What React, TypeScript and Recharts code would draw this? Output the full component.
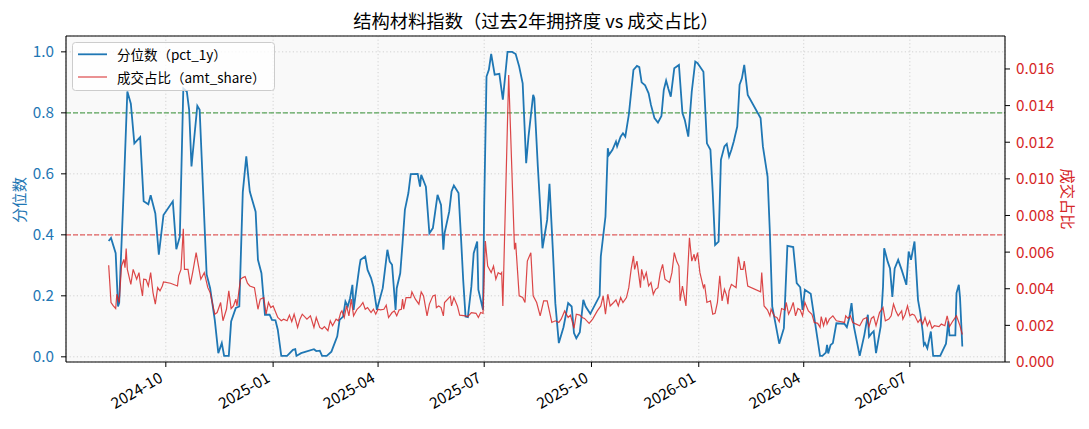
import { LineChart, Line, XAxis, YAxis, CartesianGrid, ReferenceLine } from "recharts";

const W = 1089;
const H = 429;
const FONT = '"Noto Sans CJK SC", "Noto Sans", sans-serif';
const BLUE = "#1f77b4";
const RED = "#d62728";

// 分位数 (pct_1y), one line per month
const pctDates = [
  "2024-08-13", "2024-08-15", "2024-08-19", "2024-08-21", "2024-08-22", "2024-08-23", "2024-08-26", "2024-08-29",
  "2024-09-01", "2024-09-04", "2024-09-09", "2024-09-12", "2024-09-16", "2024-09-18", "2024-09-22", "2024-09-25", "2024-09-29",
  "2024-10-07", "2024-10-10", "2024-10-13", "2024-10-16", "2024-10-19", "2024-10-21", "2024-10-23", "2024-10-28", "2024-10-30",
  "2024-11-05", "2024-11-08", "2024-11-12", "2024-11-15", "2024-11-18", "2024-11-20", "2024-11-24", "2024-11-26", "2024-11-30",
  "2024-12-03", "2024-12-06", "2024-12-09", "2024-12-12", "2024-12-17", "2024-12-19", "2024-12-22", "2024-12-25", "2024-12-29", "2024-12-31",
  "2025-01-03", "2025-01-05", "2025-01-08", "2025-01-13", "2025-01-18", "2025-01-20", "2025-01-21", "2025-01-25",
  "2025-02-05", "2025-02-07", "2025-02-10", "2025-02-12", "2025-02-16", "2025-02-20", "2025-02-25", "2025-02-27",
  "2025-03-02", "2025-03-04", "2025-03-06", "2025-03-08", "2025-03-10", "2025-03-11", "2025-03-16", "2025-03-17", "2025-03-21", "2025-03-23", "2025-03-26", "2025-03-28", "2025-03-31",
  "2025-04-05", "2025-04-09", "2025-04-11", "2025-04-13", "2025-04-16", "2025-04-17", "2025-04-20", "2025-04-22", "2025-04-24", "2025-04-27", "2025-04-29",
  "2025-05-05", "2025-05-07", "2025-05-08", "2025-05-12", "2025-05-15", "2025-05-18", "2025-05-20", "2025-05-22", "2025-05-25", "2025-05-27", "2025-05-28",
  "2025-06-01", "2025-06-03", "2025-06-05", "2025-06-09", "2025-06-11", "2025-06-13", "2025-06-15", "2025-06-17", "2025-06-20", "2025-06-22", "2025-06-25", "2025-06-26", "2025-06-30",
  "2025-07-01", "2025-07-03", "2025-07-05", "2025-07-07", "2025-07-10", "2025-07-14", "2025-07-17", "2025-07-21", "2025-07-25", "2025-07-28", "2025-07-31",
  "2025-08-03", "2025-08-06", "2025-08-08", "2025-08-12", "2025-08-13", "2025-08-16", "2025-08-18", "2025-08-20", "2025-08-24", "2025-08-26", "2025-08-29", "2025-08-31",
  "2025-09-03", "2025-09-07", "2025-09-11", "2025-09-14", "2025-09-16", "2025-09-18", "2025-09-21", "2025-09-24", "2025-09-26", "2025-09-30",
  "2025-10-08", "2025-10-09", "2025-10-13", "2025-10-15", "2025-10-16", "2025-10-19", "2025-10-22", "2025-10-23", "2025-10-26", "2025-10-28", "2025-10-30",
  "2025-11-02", "2025-11-06", "2025-11-09", "2025-11-11", "2025-11-13", "2025-11-16", "2025-11-19", "2025-11-21", "2025-11-24", "2025-11-27", "2025-11-30",
  "2025-12-02", "2025-12-04", "2025-12-06", "2025-12-08", "2025-12-11", "2025-12-15", "2025-12-18", "2025-12-20", "2025-12-23", "2025-12-26", "2025-12-29", "2025-12-31",
  "2026-01-05", "2026-01-08", "2026-01-11", "2026-01-13", "2026-01-15", "2026-01-18", "2026-01-20", "2026-01-23", "2026-01-25", "2026-01-27", "2026-01-29", "2026-01-31",
  "2026-02-03", "2026-02-05", "2026-02-07", "2026-02-09", "2026-02-12", "2026-02-23", "2026-02-25",
  "2026-03-01", "2026-03-03", "2026-03-05", "2026-03-08", "2026-03-11", "2026-03-15", "2026-03-18", "2026-03-23", "2026-03-26", "2026-03-29", "2026-03-31",
  "2026-04-02", "2026-04-07", "2026-04-11", "2026-04-15", "2026-04-17", "2026-04-20", "2026-04-21", "2026-04-22", "2026-04-24", "2026-04-26", "2026-04-29",
  "2026-05-06", "2026-05-08", "2026-05-10", "2026-05-12", "2026-05-14", "2026-05-19", "2026-05-23", "2026-05-26", "2026-05-27", "2026-05-29", "2026-05-31",
  "2026-06-02", "2026-06-06", "2026-06-08", "2026-06-09", "2026-06-12", "2026-06-14", "2026-06-16", "2026-06-18", "2026-06-21", "2026-06-24", "2026-06-28", "2026-06-30",
  "2026-07-02", "2026-07-05", "2026-07-08", "2026-07-10", "2026-07-12", "2026-07-13", "2026-07-14", "2026-07-16", "2026-07-19", "2026-07-21", "2026-07-27",
  "2026-08-01", "2026-08-03", "2026-08-04", "2026-08-09", "2026-08-10", "2026-08-12", "2026-08-13", "2026-08-15",
];
const pctValues = [
  0.38, 0.39, 0.34, 0.165, 0.177, 0.275, 0.558, 0.87,
  0.83, 0.7, 0.72, 0.51, 0.5, 0.53, 0.47, 0.335, 0.465,
  0.51, 0.353, 0.394, 0.88, 0.87, 0.81, 0.624, 0.823, 0.81,
  0.27, 0.225, 0.12, 0.012, 0.045, 0.003, 0.003, 0.116, 0.16,
  0.165, 0.54, 0.657, 0.542, 0.476, 0.318, 0.274, 0.138, 0.138, 0.121,
  0.12, 0.089, 0.003, 0.003, 0.023, 0.025, 0.003, 0.012,
  0.025, 0.019, 0.02, 0.003, 0.003, 0.017, 0.067, 0.121,
  0.132, 0.181, 0.165, 0.192, 0.236, 0.154, 0.296, 0.318, 0.329, 0.285, 0.258, 0.23, 0.154,
  0.225, 0.351, 0.312, 0.302, 0.154, 0.225, 0.274, 0.373, 0.482, 0.537, 0.599,
  0.6, 0.558, 0.597, 0.558, 0.405, 0.422, 0.476, 0.531, 0.498, 0.351, 0.405,
  0.476, 0.542, 0.562, 0.537, 0.4, 0.252, 0.132, 0.13, 0.23, 0.34, 0.378, 0.22, 0.154,
  0.493, 0.919, 0.941, 0.993, 0.925, 0.928, 0.843, 1.0, 1.0, 0.993, 0.952,
  0.897, 0.635, 0.722, 0.859, 0.848, 0.624, 0.493, 0.356, 0.449, 0.567, 0.34, 0.176,
  0.045, 0.097, 0.176, 0.165, 0.078, 0.061, 0.081, 0.187, 0.165, 0.141,
  0.2, 0.329, 0.46, 0.684, 0.662, 0.679, 0.706, 0.69, 0.722, 0.733, 0.722,
  0.793, 0.941, 0.954, 0.95, 0.9, 0.89, 0.864, 0.826, 0.783, 0.768, 0.79,
  0.875, 0.906, 0.878, 0.853, 0.946, 0.957, 0.799, 0.777, 0.722, 0.87, 0.968, 0.963,
  0.935, 0.7, 0.679, 0.537, 0.367, 0.378, 0.646, 0.69, 0.698, 0.657, 0.679, 0.706,
  0.755, 0.892, 0.913, 0.957, 0.859, 0.783, 0.69,
  0.591, 0.405, 0.165, 0.105, 0.043, 0.094, 0.364, 0.36, 0.242, 0.228, 0.154,
  0.22, 0.207, 0.105, 0.003, 0.003, 0.014, 0.039, 0.011, 0.039, 0.045, 0.11,
  0.108, 0.097, 0.127, 0.176, 0.1, 0.003, 0.072, 0.138, 0.066, 0.076, 0.084,
  0.012, 0.1, 0.23, 0.356, 0.312, 0.29, 0.196, 0.29, 0.318, 0.285, 0.236, 0.345,
  0.318, 0.378, 0.187, 0.143, 0.083, 0.039, 0.045, 0.028, 0.083, 0.003, 0.003,
  0.043, 0.116, 0.07, 0.07, 0.209, 0.236, 0.196, 0.034,
];

// 成交占比 (amt_share), one line per month
const shareDates = [
  "2024-08-13", "2024-08-15", "2024-08-17", "2024-08-19", "2024-08-20", "2024-08-22", "2024-08-24", "2024-08-26", "2024-08-27", "2024-08-28", "2024-08-29",
  "2024-09-01", "2024-09-03", "2024-09-06", "2024-09-08", "2024-09-09", "2024-09-11", "2024-09-12", "2024-09-14", "2024-09-16", "2024-09-18", "2024-09-20", "2024-09-22", "2024-09-24", "2024-09-26", "2024-09-28", "2024-09-29",
  "2024-10-05", "2024-10-11", "2024-10-12", "2024-10-14", "2024-10-16", "2024-10-17", "2024-10-20", "2024-10-22", "2024-10-24", "2024-10-27", "2024-10-31",
  "2024-11-03", "2024-11-06", "2024-11-08", "2024-11-12", "2024-11-14", "2024-11-17", "2024-11-19", "2024-11-22", "2024-11-24", "2024-11-26", "2024-11-28", "2024-11-30",
  "2024-12-01", "2024-12-04", "2024-12-06", "2024-12-08", "2024-12-10", "2024-12-12", "2024-12-16", "2024-12-19", "2024-12-21", "2024-12-24", "2024-12-26", "2024-12-28", "2024-12-30",
  "2025-01-01", "2025-01-05", "2025-01-08", "2025-01-10", "2025-01-13", "2025-01-15", "2025-01-17", "2025-01-19", "2025-01-22", "2025-01-24", "2025-01-26", "2025-01-30",
  "2025-02-02", "2025-02-05", "2025-02-07", "2025-02-10", "2025-02-12", "2025-02-14", "2025-02-17", "2025-02-19", "2025-02-21", "2025-02-24", "2025-02-26", "2025-02-28",
  "2025-03-01", "2025-03-03", "2025-03-05", "2025-03-07", "2025-03-09", "2025-03-11", "2025-03-14", "2025-03-17", "2025-03-19", "2025-03-21", "2025-03-23", "2025-03-26", "2025-03-28", "2025-03-30",
  "2025-04-01", "2025-04-03", "2025-04-06", "2025-04-08", "2025-04-10", "2025-04-13", "2025-04-15", "2025-04-17", "2025-04-19", "2025-04-21", "2025-04-22", "2025-04-23", "2025-04-25", "2025-04-29", "2025-04-30",
  "2025-05-03", "2025-05-06", "2025-05-08", "2025-05-10", "2025-05-13", "2025-05-15", "2025-05-18", "2025-05-20", "2025-05-21", "2025-05-23", "2025-05-25", "2025-05-27", "2025-05-28",
  "2025-06-02", "2025-06-03", "2025-06-05", "2025-06-08", "2025-06-10", "2025-06-15", "2025-06-17", "2025-06-20", "2025-06-24", "2025-06-26", "2025-06-28", "2025-06-30",
  "2025-07-02", "2025-07-04", "2025-07-07", "2025-07-09", "2025-07-11", "2025-07-13", "2025-07-15", "2025-07-16", "2025-07-17", "2025-07-22", "2025-07-27", "2025-07-28", "2025-07-31",
  "2025-08-03", "2025-08-05", "2025-08-07", "2025-08-10", "2025-08-12", "2025-08-15", "2025-08-18", "2025-08-21", "2025-08-24", "2025-08-28", "2025-08-31",
  "2025-09-03", "2025-09-05", "2025-09-08", "2025-09-11", "2025-09-13", "2025-09-16", "2025-09-18", "2025-09-21", "2025-09-23", "2025-09-25", "2025-09-29",
  "2025-10-02", "2025-10-06", "2025-10-09", "2025-10-11", "2025-10-13", "2025-10-15", "2025-10-17", "2025-10-20", "2025-10-22", "2025-10-24", "2025-10-26", "2025-10-28", "2025-10-31",
  "2025-11-02", "2025-11-04", "2025-11-06", "2025-11-07", "2025-11-09", "2025-11-12", "2025-11-13", "2025-11-15", "2025-11-17", "2025-11-19", "2025-11-21", "2025-11-23", "2025-11-25", "2025-11-27", "2025-11-29",
  "2025-12-01", "2025-12-03", "2025-12-05", "2025-12-07", "2025-12-09", "2025-12-11", "2025-12-13", "2025-12-15", "2025-12-16", "2025-12-18", "2025-12-21", "2025-12-24", "2025-12-26", "2025-12-28", "2025-12-29", "2025-12-31",
  "2026-01-02", "2026-01-05", "2026-01-06", "2026-01-08", "2026-01-11", "2026-01-13", "2026-01-15", "2026-01-17", "2026-01-19", "2026-01-21", "2026-01-23", "2026-01-25", "2026-01-26", "2026-01-27", "2026-01-29", "2026-01-31",
  "2026-02-02", "2026-02-04", "2026-02-06", "2026-02-08", "2026-02-09", "2026-02-12", "2026-02-23", "2026-02-24", "2026-02-26",
  "2026-03-01", "2026-03-03", "2026-03-04", "2026-03-07", "2026-03-09", "2026-03-11", "2026-03-13", "2026-03-16", "2026-03-17", "2026-03-19", "2026-03-21", "2026-03-23", "2026-03-25", "2026-03-27", "2026-03-29", "2026-03-31",
  "2026-04-02", "2026-04-05", "2026-04-08", "2026-04-10", "2026-04-13", "2026-04-15", "2026-04-16", "2026-04-18", "2026-04-20", "2026-04-21", "2026-04-23", "2026-04-26", "2026-04-29",
  "2026-05-06", "2026-05-07", "2026-05-09", "2026-05-11", "2026-05-13", "2026-05-16", "2026-05-19", "2026-05-22", "2026-05-25", "2026-05-27", "2026-05-29", "2026-05-31",
  "2026-06-02", "2026-06-05", "2026-06-08", "2026-06-10", "2026-06-13", "2026-06-15", "2026-06-17", "2026-06-19", "2026-06-21", "2026-06-24", "2026-06-25", "2026-06-27", "2026-06-29",
  "2026-07-01", "2026-07-03", "2026-07-05", "2026-07-08", "2026-07-10", "2026-07-12", "2026-07-14", "2026-07-16", "2026-07-18", "2026-07-20", "2026-07-22", "2026-07-26", "2026-07-28", "2026-07-31",
  "2026-08-02", "2026-08-04", "2026-08-07", "2026-08-10", "2026-08-13", "2026-08-15",
];
const shareValues = [
  0.00528, 0.00325, 0.00306, 0.00292, 0.0037, 0.00325, 0.00524, 0.0056, 0.00515, 0.00619, 0.00506,
  0.00424, 0.00506, 0.00452, 0.00488, 0.00434, 0.00361, 0.00452, 0.0045, 0.00415, 0.00488, 0.00379, 0.00316, 0.00406, 0.00388, 0.00415, 0.00437,
  0.0043, 0.00415, 0.0047, 0.00506, 0.00727, 0.00506, 0.00506, 0.00424, 0.00488, 0.00597, 0.00452,
  0.00488, 0.00406, 0.00379, 0.00261, 0.0027, 0.00325, 0.00225, 0.00288, 0.00388, 0.00292, 0.00306, 0.00343,
  0.00306, 0.00452, 0.00461, 0.00466, 0.0043, 0.00415, 0.00406, 0.00288, 0.00343, 0.00352, 0.00261, 0.00325, 0.00297,
  0.00306, 0.00243, 0.00225, 0.00234, 0.00225, 0.00256, 0.0022, 0.00261, 0.00189, 0.00234, 0.00261, 0.00234,
  0.00252, 0.00189, 0.00243, 0.00189, 0.0018, 0.00193, 0.00171, 0.00225, 0.00198, 0.00234, 0.00225, 0.0027,
  0.00279, 0.00243, 0.00306, 0.00252, 0.00343, 0.00252, 0.00288, 0.00306, 0.00325, 0.00288, 0.00297, 0.0027, 0.00288, 0.00261,
  0.00288, 0.00285, 0.00288, 0.0031, 0.00243, 0.0027, 0.00279, 0.00252, 0.00284, 0.00288, 0.00343, 0.00288, 0.00352, 0.00352, 0.00383,
  0.00343, 0.00316, 0.00383, 0.00361, 0.00252, 0.00316, 0.00361, 0.00365, 0.00297, 0.00306, 0.00297, 0.00252, 0.00325,
  0.00359, 0.00306, 0.00352, 0.00306, 0.00256, 0.00252, 0.00248, 0.0027, 0.00266, 0.00243, 0.0027, 0.00265,
  0.0066, 0.00524, 0.00488, 0.00524, 0.00452, 0.00488, 0.00479, 0.00488, 0.00306, 0.01567, 0.00615, 0.00651, 0.00361,
  0.00352, 0.00325, 0.00551, 0.00597, 0.00361, 0.00325, 0.00252, 0.00334, 0.00334, 0.00216, 0.00225,
  0.00216, 0.00234, 0.00279, 0.00243, 0.00256, 0.00184, 0.00261, 0.00256, 0.00243, 0.00238, 0.00211,
  0.00234, 0.00279, 0.00306, 0.00361, 0.00261, 0.0037, 0.00306, 0.00325, 0.00339, 0.00306, 0.00352, 0.00325, 0.00352,
  0.00406, 0.00506, 0.00579, 0.00506, 0.00551, 0.00406, 0.00506, 0.00452, 0.00488, 0.00415, 0.00434, 0.0037, 0.00397, 0.00406, 0.00488,
  0.00533, 0.00452, 0.00443, 0.00434, 0.00488, 0.00597, 0.00551, 0.00524, 0.00334, 0.00415, 0.00306, 0.00678, 0.00551, 0.00588, 0.00551, 0.00597,
  0.00488, 0.00406, 0.00424, 0.00325, 0.00334, 0.00261, 0.00266, 0.00325, 0.0047, 0.00334, 0.00397, 0.00361, 0.00316, 0.00388, 0.00424, 0.00415,
  0.00406, 0.00575, 0.00506, 0.00506, 0.00551, 0.00415, 0.00383, 0.00488, 0.00306,
  0.00284, 0.00252, 0.00288, 0.00248, 0.00243, 0.0022, 0.00292, 0.00284, 0.00325, 0.00261, 0.00288, 0.00325, 0.00252, 0.00292, 0.00284, 0.00252,
  0.00325, 0.00279, 0.00261, 0.00216, 0.00211, 0.00189, 0.00248, 0.00198, 0.00243, 0.00207, 0.00234, 0.00252, 0.00225,
  0.00216, 0.00252, 0.00238, 0.00252, 0.00216, 0.00207, 0.00198, 0.00234, 0.00243, 0.00193, 0.00238, 0.00248,
  0.00198, 0.0027, 0.00297, 0.00225, 0.00234, 0.00252, 0.00316, 0.00279, 0.00252, 0.00279, 0.00234, 0.00261, 0.00306,
  0.00252, 0.00261, 0.00256, 0.00216, 0.00234, 0.00207, 0.00243, 0.00198, 0.00225, 0.00184, 0.00198, 0.00193, 0.00207, 0.00198,
  0.00252, 0.00193, 0.00225, 0.00252, 0.00198, 0.0015,
];

const xTickDates = ["2024-10-01", "2025-01-01", "2025-04-01", "2025-07-01", "2025-10-01", "2026-01-01", "2026-04-01", "2026-07-01"];
const xTickLabels = ["2024-10", "2025-01", "2025-04", "2025-07", "2025-10", "2026-01", "2026-04", "2026-07"];
const leftTicks = [0, 0.2, 0.4, 0.6, 0.8, 1.0];
const rightTicks = [0, 0.002, 0.004, 0.006, 0.008, 0.01, 0.012, 0.014, 0.016];

const toTs = (d: string) => Date.parse(d + "T00:00:00Z");

const pctData = pctDates.map((d, i) => ({ t: toTs(d), v: pctValues[i] }));
const shareData = shareDates.map((d, i) => ({ t: toTs(d), v: shareValues[i] }));

// matplotlib-like 5% x margins
const allT = [...pctData, ...shareData].map((p) => p.t);
const tMin = Math.min(...allT);
const tMax = Math.max(...allT);
const xPad = (tMax - tMin) * 0.05;
const xDomain = [tMin - xPad, tMax + xPad];
const xTicks = xTickDates.map(toTs);

const leftDomain = [-0.017, 1.052];
const rightDomain = [0, 0.0178];

function DateTick(props: any) {
  const { x, y, payload } = props;
  const idx = xTicks.indexOf(payload.value);
  const ax = x - 2;
  const ay = y + 12;
  return (
    <text x={ax} y={ay} transform={`rotate(-30, ${ax}, ${ay})`} textAnchor="end" fill="#000" fontSize={15.3}>
      {idx >= 0 ? xTickLabels[idx] : ""}
    </text>
  );
}

export default function App() {
  return (
    <div style={{ position: "fixed", left: 0, top: 0, width: W, height: H, background: "#fff", fontFamily: FONT }}>
      <LineChart width={W} height={H} margin={{ top: 36, right: 20, bottom: 7, left: 10 }}>
        <CartesianGrid stroke="#d2d2d2" strokeDasharray="1.2 2.4" fill="#f9f9f9" />
        <XAxis
          dataKey="t"
          type="number"
          domain={xDomain}
          allowDataOverflow
          ticks={xTicks}
          interval={0}
          height={60}
          tickSize={5}
          tickMargin={2}
          tick={<DateTick />}
          tickLine={{ stroke: "#000" }}
          axisLine={{ stroke: "#000", strokeWidth: 1.1 }}
        />
        <YAxis
          yAxisId={0}
          type="number"
          domain={leftDomain}
          allowDataOverflow
          ticks={leftTicks}
          width={56}
          tickSize={5}
          tickMargin={7}
          tickFormatter={(v: number) => v.toFixed(1)}
          tick={{ fill: BLUE, fontSize: 15.3 }}
          tickLine={{ stroke: "#000" }}
          axisLine={{ stroke: "#000", strokeWidth: 1.1 }}
        />
        <YAxis
          yAxisId="right"
          orientation="right"
          type="number"
          domain={rightDomain}
          allowDataOverflow
          ticks={rightTicks}
          width={64}
          tickSize={5}
          tickMargin={6}
          tickFormatter={(v: number) => v.toFixed(3)}
          tick={{ fill: RED, fontSize: 15.3 }}
          tickLine={{ stroke: "#000" }}
          axisLine={{ stroke: "#000", strokeWidth: 1.1 }}
        />
        <ReferenceLine yAxisId={0} y={0.8} stroke="#3f963f" strokeDasharray="5 2" strokeWidth={1.1} strokeOpacity={0.85} />
        <ReferenceLine yAxisId={0} y={0.4} stroke="#e05050" strokeDasharray="5 2" strokeWidth={1.1} strokeOpacity={0.9} />
        {/* top spine */}
        <ReferenceLine yAxisId={0} y={leftDomain[1]} stroke="#000" strokeWidth={1.1} ifOverflow="visible" />
        <Line
          yAxisId={0}
          data={pctData}
          dataKey="v"
          type="linear"
          stroke={BLUE}
          strokeWidth={1.8}
          dot={false}
          activeDot={false}
          isAnimationActive={false}
        />
        <Line
          yAxisId="right"
          data={shareData}
          dataKey="v"
          type="linear"
          stroke={RED}
          strokeOpacity={0.85}
          strokeWidth={1.2}
          dot={false}
          activeDot={false}
          isAnimationActive={false}
        />
      </LineChart>

      {/* title, axis titles, legend */}
      <svg width={W} height={H} style={{ position: "absolute", left: 0, top: 0, pointerEvents: "none" }}>
        <text x={536} y={20} textAnchor="middle" dominantBaseline="central" fontSize={18.3} fill="#000">
          结构材料指数（过去2年拥挤度 vs 成交占比）
        </text>
        <text x={18} y={200} transform="rotate(-90, 18, 200)" textAnchor="middle" dominantBaseline="central" fontSize={15.3} fill={BLUE}>
          分位数
        </text>
        <text x={1069} y={199} transform="rotate(90, 1069, 199)" textAnchor="middle" dominantBaseline="central" fontSize={15.3} fill={RED}>
          成交占比
        </text>
        <rect x={72.5} y={42.5} width={202} height={48} rx={3} fill="#fff" fillOpacity={0.8} stroke="#cccccc" strokeWidth={1} />
        <line x1={78} y1={54.3} x2={107} y2={54.3} stroke={BLUE} strokeWidth={1.8} />
        <text x={117} y={54.3} dominantBaseline="central" fontSize={13.5} fill="#000">
          分位数（pct_1y）
        </text>
        <line x1={78} y1={77} x2={107} y2={77} stroke={RED} strokeOpacity={0.85} strokeWidth={1.2} />
        <text x={117} y={77} dominantBaseline="central" fontSize={13.5} fill="#000">
          成交占比（amt_share）
        </text>
      </svg>
    </div>
  );
}
